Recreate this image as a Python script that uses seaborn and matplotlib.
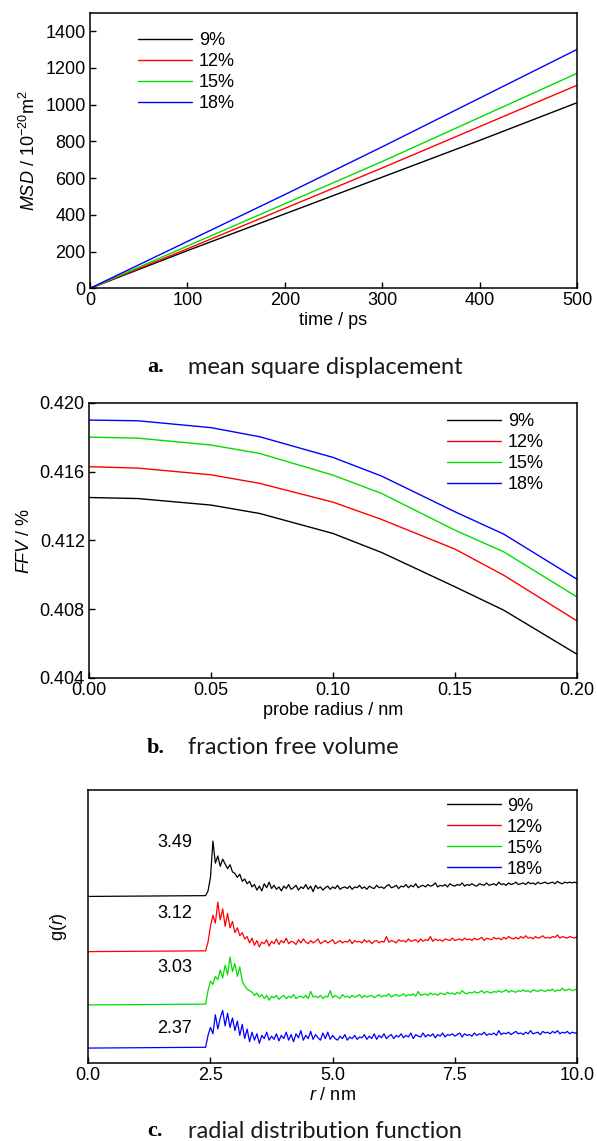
import matplotlib
matplotlib.use("Agg")
import matplotlib.pyplot as plt
import numpy as np
import pandas as pd
import seaborn as sns
from matplotlib.ticker import FormatStrFormatter

# series labels and colours
series = ["9%", "12%", "15%", "18%"]
colors = ["#000000", "#ff0000", "#00dd00", "#0000ff"]

# a. mean square displacement (10^-20 m^2) vs time (ps)
msd_time = [0, 100, 200, 300, 400, 500]
msd_9 = [0, 205, 405, 605, 805, 1010]
msd_12 = [0, 215, 435, 655, 880, 1105]
msd_15 = [0, 230, 460, 690, 930, 1170]
msd_18 = [0, 255, 510, 770, 1035, 1300]

# b. fraction free volume vs probe radius (nm)
probe_radius = [0.00, 0.02, 0.05, 0.07, 0.10, 0.12, 0.15, 0.17, 0.20]
ffv_9 = [0.41449, 0.41443, 0.41405, 0.41356, 0.41240, 0.41129, 0.40930, 0.40794, 0.40538]
ffv_12 = [0.41628, 0.41620, 0.41581, 0.41531, 0.41422, 0.41321, 0.41149, 0.40997, 0.40732]
ffv_15 = [0.41800, 0.41794, 0.41754, 0.41705, 0.41579, 0.41472, 0.41259, 0.41133, 0.40871]
ffv_18 = [0.41899, 0.41895, 0.41855, 0.41802, 0.41682, 0.41573, 0.41366, 0.41236, 0.40974]

# c. radial distribution function, sampled every 0.05 nm from 2.40 to 10.00 nm
rdf_r = [0.0] + list(np.round(2.40 + 0.05 * np.arange(153), 2))
rdf_9 = [0.0,
         0.05, 0.35, 1.2, 3.49, 2.1, 2.55, 1.9, 2.35, 2.05, 1.75,
         2.0, 1.55, 1.45, 1.2, 1.4, 0.95, 1.1, 0.8, 0.95, 0.6,
         0.75, 0.4, 0.65, 0.35, 0.8, 0.55, 0.9, 0.5, 0.7, 0.45,
         0.6, 0.35, 0.65, 0.5, 0.75, 0.45, 0.55, 0.7, 0.4, 0.6,
         0.5, 0.75, 0.45, 0.65, 0.3, 0.7, 0.5, 0.6, 0.4, 0.55,
         0.65, 0.45, 0.6, 0.5, 0.7, 0.45, 0.55, 0.6, 0.5, 0.65,
         0.45, 0.6, 0.55, 0.7, 0.5, 0.6, 0.45, 0.65, 0.55, 0.5,
         0.7, 0.55, 0.6, 0.5, 0.65, 0.75, 0.55, 0.6, 0.7, 0.5,
         0.65, 0.6, 0.75, 0.55, 0.7, 0.6, 0.8, 0.55, 0.65, 0.7,
         0.6, 0.75, 0.65, 0.7, 0.85, 0.6, 0.7, 0.65, 0.75, 0.6,
         0.8, 0.7, 0.65, 0.75, 0.7, 0.85, 0.65, 0.75, 0.7, 0.8,
         0.7, 0.65, 0.8, 0.75, 0.7, 0.85, 0.7, 0.75, 0.8, 0.7,
         0.9, 0.75, 0.8, 0.7, 0.85, 0.75, 0.8, 0.9, 0.75, 0.8,
         0.85, 0.75, 0.9, 0.8, 0.85, 0.75, 0.9, 0.8, 0.85, 0.9,
         0.8, 0.85, 0.9, 0.8, 0.95, 0.85, 0.8, 0.9, 0.85, 0.9,
         0.85, 0.9, 0.85]
rdf_12 = [0.0,
          0.05, 0.6, 1.6, 2.3, 1.8, 3.12, 2.0, 2.7, 1.6, 2.4,
          1.5, 1.9, 1.2, 1.5, 1.0, 1.2, 0.8, 0.95, 0.55, 0.85,
          0.4, 0.7, 0.3, 0.6, 0.5, 0.75, 0.35, 0.65, 0.5, 0.8,
          0.45, 0.7, 0.55, 0.85, 0.5, 0.65, 0.6, 0.45, 0.75, 0.55,
          0.8, 0.6, 0.5, 0.7, 0.55, 0.65, 0.8, 0.5, 0.6, 0.7,
          0.55, 0.65, 0.75, 0.5, 0.6, 0.7, 0.55, 0.65, 0.6, 0.75,
          0.5, 0.7, 0.6, 0.65, 0.55, 0.75, 0.6, 0.7, 0.5, 0.65,
          0.7, 0.55, 0.65, 0.6, 0.95, 0.6, 0.7, 0.65, 0.55, 0.75,
          0.65, 0.7, 0.6, 0.8, 0.65, 0.7, 0.75, 0.6, 0.8, 0.65,
          0.75, 0.7, 0.95, 0.65, 0.8, 0.7, 0.75, 0.65, 0.8, 0.75,
          0.7, 0.85, 0.7, 0.75, 0.8, 0.7, 0.85, 0.75, 0.8, 0.7,
          0.85, 0.75, 0.8, 0.9, 0.7, 0.85, 0.8, 0.75, 0.9, 0.8,
          0.85, 0.75, 0.9, 0.8, 0.95, 0.85, 0.8, 0.9, 0.8, 0.95,
          0.85, 1.0, 0.85, 0.9, 0.8, 0.95, 0.85, 0.9, 1.0, 0.85,
          0.9, 0.85, 0.95, 0.9, 1.05, 0.85, 0.95, 0.9, 0.85, 0.95,
          0.9, 0.85, 0.95]
rdf_15 = [0.0,
          0.05, 0.9, 1.5, 1.3, 1.8, 1.6, 2.2, 1.7, 2.5, 1.9,
          3.03, 2.1, 2.6, 1.8, 2.4, 1.5, 1.2, 1.0, 0.9, 0.8,
          0.6, 0.75, 0.5, 0.65, 0.4, 0.6, 0.3, 0.55, 0.45, 0.6,
          0.35, 0.5, 0.6, 0.4, 0.55, 0.45, 0.65, 0.4, 0.5, 0.55,
          0.45, 0.6, 0.4, 0.85, 0.5, 0.55, 0.45, 0.6, 0.4, 0.55,
          0.5, 0.9, 0.45, 0.6, 0.5, 0.4, 0.65, 0.5, 0.55, 0.45,
          0.6, 0.5, 0.55, 0.65, 0.45, 0.6, 0.5, 0.55, 0.6, 0.45,
          0.55, 0.65, 0.5, 0.6, 0.55, 0.7, 0.5, 0.6, 0.65, 0.55,
          0.6, 0.7, 0.55, 0.65, 0.6, 0.7, 0.55, 0.85, 0.6, 0.65,
          0.7, 0.6, 0.75, 0.65, 0.7, 0.6, 0.75, 0.7, 0.65, 0.8,
          0.7, 0.75, 0.65, 0.8, 0.7, 0.9, 0.75, 0.7, 0.8, 0.75,
          0.85, 0.75, 0.8, 0.9, 0.75, 0.85, 0.8, 0.75, 0.85, 0.8,
          0.9, 0.8, 0.85, 0.95, 0.8, 0.9, 0.85, 0.8, 0.9, 0.85,
          0.95, 0.85, 0.9, 0.8, 0.95, 0.9, 0.85, 0.95, 0.9, 0.85,
          0.95, 0.9, 1.0, 0.85, 0.95, 0.9, 1.05, 0.9, 0.95, 1.0,
          0.9, 0.95, 1.0]
rdf_18 = [0.0,
          0.05, 0.8, 1.3, 0.9, 2.1, 1.2, 1.9, 2.37, 1.4, 2.2,
          1.3, 1.9, 1.1, 1.7, 0.8, 1.5, 0.6, 1.2, 0.4, 1.0,
          0.5, 0.9, 0.3, 0.8, 0.6, 1.0, 0.5, 0.75, 0.55, 0.9,
          0.45, 0.8, 0.6, 1.0, 0.5, 0.85, 0.4, 0.9, 0.65, 1.1,
          0.5, 0.8, 0.6, 1.05, 0.55, 0.85, 0.65, 0.5, 0.95, 0.6,
          1.0, 0.55, 0.8, 0.6, 0.5, 0.75, 0.6, 0.85, 0.5, 0.7,
          0.6, 0.8, 0.55, 0.7, 0.65, 0.85, 0.55, 0.75, 0.6, 0.9,
          0.55, 0.8, 0.65, 0.9, 0.6, 0.75, 0.85, 0.6, 0.8, 0.7,
          0.9, 0.65, 0.8, 0.7, 0.95, 0.6, 0.85, 0.75, 0.7, 0.95,
          0.7, 0.85, 0.75, 0.9, 0.65, 0.85, 0.75, 0.95, 0.7, 0.85,
          0.8, 0.9, 0.75, 0.85, 0.95, 0.7, 0.9, 0.8, 0.85, 0.75,
          0.95, 0.8, 0.9, 0.85, 1.0, 0.8, 0.9, 0.85, 0.95, 0.8,
          1.1, 0.85, 0.95, 0.9, 1.0, 0.85, 0.95, 1.05, 0.9, 0.95,
          0.85, 1.0, 0.9, 1.1, 0.9, 0.95, 1.0, 0.85, 1.05, 0.95,
          1.0, 0.9, 1.05, 0.95, 1.1, 0.9, 1.0, 0.95, 1.05, 0.9,
          1.0, 0.95, 0.95]
rdf_peaks = ["3.49", "3.12", "3.03", "2.37"]

# vertical stacking of the g(r) curves
rdf_offsets = [10.52, 7.04, 3.68, 0.96]
peak_label_y = [13.9, 9.46, 6.03, 2.21]

sns.set_theme(style="ticks")
plt.rcParams["font.family"] = ["Liberation Sans", "DejaVu Sans"]
plt.rcParams["mathtext.fontset"] = "custom"
plt.rcParams["mathtext.rm"] = "Liberation Sans"
plt.rcParams["mathtext.it"] = "Liberation Sans:italic"
plt.rcParams["axes.linewidth"] = 1.1
plt.rcParams["axes.edgecolor"] = "black"
plt.rcParams["text.color"] = "black"
plt.rcParams["axes.labelcolor"] = "black"

FS = 13
W, H = 597, 1141


def long_df(x, ys):
    rows = []
    for name, vals in zip(series, ys):
        for xv, yv in zip(x, vals):
            rows.append({"x": xv, "y": yv, "series": name})
    return pd.DataFrame(rows)


def style_axes(ax):
    for s in ax.spines.values():
        s.set_visible(True)
        s.set_color("black")
        s.set_linewidth(1.1)
    ax.tick_params(direction="in", length=4, width=1.0, labelsize=FS, pad=3,
                   colors="black", top=False, right=False)


def add_legend(ax, anchor):
    leg = ax.legend(loc="upper left", bbox_to_anchor=anchor, frameon=False,
                    fontsize=FS, handlelength=3.0, handletextpad=0.35,
                    labelspacing=0.22, borderpad=0.0, borderaxespad=0.0)
    for line in leg.get_lines():
        line.set_linewidth(1.0)
    for t in leg.get_texts():
        t.set_color("black")


def rect(l, r, t, b):
    return [l / W, 1 - b / H, (r - l) / W, (b - t) / H]


fig = plt.figure(figsize=(W / 100, H / 100), dpi=100)

# a. MSD
ax1 = fig.add_axes(rect(90, 577, 12.7, 288.3))
df1 = long_df(msd_time, [msd_9, msd_12, msd_15, msd_18])
sns.lineplot(data=df1, x="x", y="y", hue="series", palette=colors, ax=ax1,
             linewidth=1.0, sort=False)
ax1.set_xlim(0, 500)
ax1.set_ylim(0, 1500)
ax1.set_xticks([0, 100, 200, 300, 400, 500])
ax1.set_yticks([0, 200, 400, 600, 800, 1000, 1200, 1400])
ax1.set_xlabel("time / ps", fontsize=FS, labelpad=2)
ax1.set_ylabel(r"$\it{MSD}$ / 10$^{-20}$m$^2$", fontsize=FS, labelpad=5)
style_axes(ax1)
add_legend(ax1, (0.099, 0.93))

# b. FFV
ax2 = fig.add_axes(rect(89, 577, 402.7, 678))
df2 = long_df(probe_radius, [ffv_9, ffv_12, ffv_15, ffv_18])
sns.lineplot(data=df2, x="x", y="y", hue="series", palette=colors, ax=ax2,
             linewidth=1.0, sort=False)
ax2.set_xlim(0, 0.2)
ax2.set_ylim(0.404, 0.420)
ax2.set_xticks([0.0, 0.05, 0.10, 0.15, 0.20])
ax2.set_yticks([0.404, 0.408, 0.412, 0.416, 0.420])
ax2.xaxis.set_major_formatter(FormatStrFormatter("%.2f"))
ax2.yaxis.set_major_formatter(FormatStrFormatter("%.3f"))
ax2.set_xlabel("probe radius / nm", fontsize=FS, labelpad=2)
ax2.set_ylabel(r"$\it{FFV}$ / %", fontsize=FS, labelpad=5)
style_axes(ax2)
add_legend(ax2, (0.734, 0.962))

# c. g(r)
ax3 = fig.add_axes(rect(88.3, 577, 790, 1063.3))
rdf_shifted = [[v + off for v in vals]
               for vals, off in zip([rdf_9, rdf_12, rdf_15, rdf_18], rdf_offsets)]
df3 = long_df(rdf_r, rdf_shifted)
sns.lineplot(data=df3, x="x", y="y", hue="series", palette=colors, ax=ax3,
             linewidth=0.9, sort=False)
ax3.set_xlim(0, 10)
ax3.set_ylim(0, 17.23)
ax3.set_xticks([0.0, 2.5, 5.0, 7.5, 10.0])
ax3.set_yticks([])
ax3.xaxis.set_major_formatter(FormatStrFormatter("%.1f"))
ax3.set_xlabel(r"$\it{r}$ / nm", fontsize=FS, labelpad=2)
ax3.set_ylabel(r"g($\it{r}$)", fontsize=FS, labelpad=14)
style_axes(ax3)
for lbl, yy in zip(rdf_peaks, peak_label_y):
    ax3.text(1.77, yy, lbl, fontsize=FS, ha="center", va="center", color="black")
add_legend(ax3, (0.733, 0.972))

# captions
captions = [("a.", "mean square displacement", 367),
            ("b.", "fraction free volume", 748),
            ("c.", "radial distribution function", 1131)]
for tag, txt, yc in captions:
    fig.text(147 / W, 1 - yc / H, tag, fontsize=16, fontweight="bold",
             family="Liberation Serif", va="center", ha="left", color="black")
    fig.text(188 / W, 1 - yc / H, txt, fontsize=17, family="Lato",
             fontweight="normal", va="center", ha="left", color="#1a1a1a")

fig.savefig("out.png", dpi=100)
